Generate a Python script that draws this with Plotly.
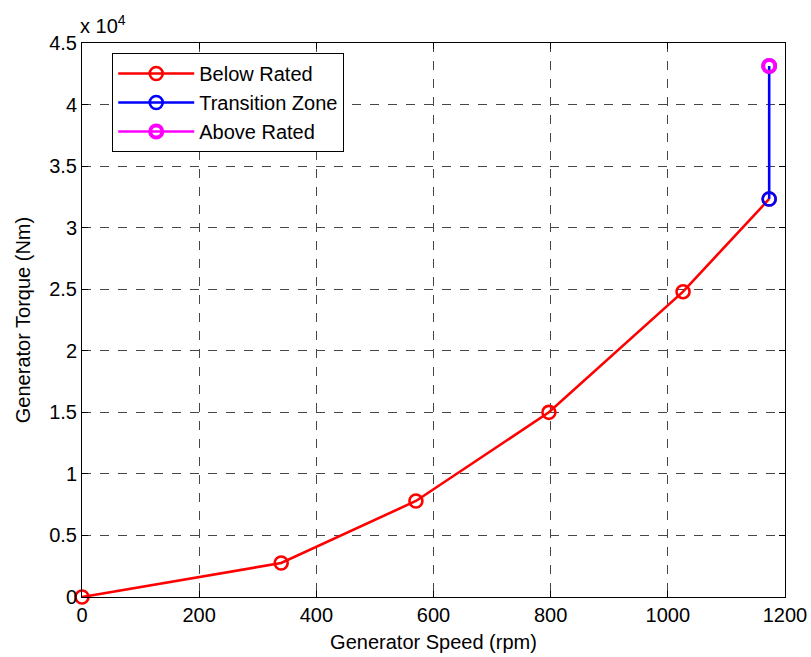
import plotly.graph_objects as go

# Generator torque vs. speed characteristic
speed_below = [0, 340, 570, 797, 1026, 1173]
torque_below = [0, 2760, 7800, 15000, 24800, 32330]

speed_transition = [1173, 1173]
torque_transition = [32330, 43130]

speed_above = [1173]
torque_above = [43130]

y_tick_vals = [0, 5000, 10000, 15000, 20000, 25000, 30000, 35000, 40000, 45000]
y_tick_text = ["0", "0.5", "1", "1.5", "2", "2.5", "3", "3.5", "4", "4.5"]
x_tick_vals = [0, 200, 400, 600, 800, 1000, 1200]

FONT = "Liberation Sans, Arial, Helvetica, sans-serif"
FS = 20

fig = go.Figure()

fig.add_trace(go.Scatter(
    x=speed_below, y=torque_below, mode="lines+markers", name="Below Rated",
    legendgroup="a", cliponaxis=False,
    line=dict(color="#ff0000", width=2.6),
    marker=dict(symbol="circle-open", size=13, color="#ff0000", line=dict(width=2.6)),
))
fig.add_trace(go.Scatter(
    x=speed_transition, y=torque_transition, mode="lines+markers", name="Transition Zone",
    legendgroup="b", cliponaxis=False,
    line=dict(color="#0000ff", width=2.6),
    marker=dict(symbol="circle-open", size=13, color="#0000ff", line=dict(width=2.6)),
))
fig.add_trace(go.Scatter(
    x=speed_above, y=torque_above, mode="lines+markers", name="Above Rated",
    legendgroup="c", cliponaxis=False,
    line=dict(color="#ff00ff", width=2.6),
    marker=dict(symbol="circle-open", size=12, color="#ff00ff", line=dict(width=4)),
))

axis_common = dict(
    showline=True, linecolor="black", linewidth=1, mirror="ticks",
    ticks="inside", ticklen=6, tickwidth=1, tickcolor="black",
    showgrid=True, gridcolor="rgb(70,70,70)", gridwidth=1, griddash="dash",
    zeroline=False, automargin=False,
    tickfont=dict(family=FONT, size=FS, color="black"),
)

fig.update_xaxes(
    range=[0, 1200], tickmode="array", tickvals=x_tick_vals,
    title=dict(text="Generator Speed (rpm)", font=dict(family=FONT, size=FS, color="black"), standoff=9),
    **axis_common,
)
fig.update_yaxes(
    range=[0, 45000], tickmode="array", tickvals=y_tick_vals, ticktext=y_tick_text,
    title=dict(text="Generator Torque (Nm)", font=dict(family=FONT, size=FS, color="black"), standoff=13),
    **axis_common,
)

fig.add_annotation(
    xref="paper", yref="paper", x=0, y=1, xanchor="left", yanchor="bottom",
    text="x 10<sup>4</sup>", showarrow=False, yshift=4, xshift=-4,
    font=dict(family=FONT, size=FS, color="black"),
)

fig.update_layout(
    width=811, height=657,
    margin=dict(l=82, r=26, t=43, b=60),
    paper_bgcolor="white", plot_bgcolor="white",
    font=dict(family=FONT, size=FS, color="black"),
    showlegend=True,
    legend=dict(
        x=0.043, y=0.982, xanchor="left", yanchor="top",
        bgcolor="white", bordercolor="black", borderwidth=1,
        font=dict(family=FONT, size=FS, color="black"),
        tracegroupgap=0, itemwidth=76,
    ),
)

fig.write_html("out.html")
